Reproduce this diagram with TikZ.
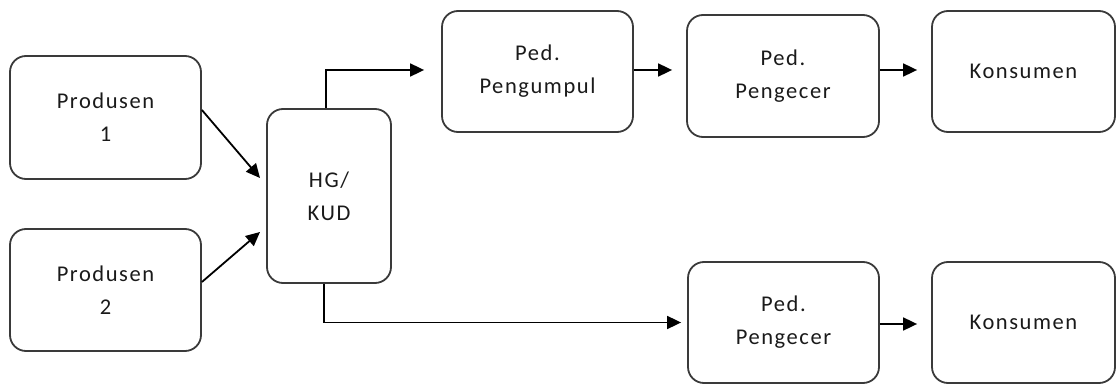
\documentclass[tikz,border=0pt]{standalone}
\usepackage{fontspec}
\setmainfont[LetterSpace=7]{Carlito}
\usetikzlibrary{arrows.meta}
\definecolor{boxline}{HTML}{3A3A3A}
\definecolor{txt}{HTML}{1A1A1A}
\tikzset{
  box/.style={draw=boxline, line width=1.8pt, rounded corners=16pt, align=center,
    text=txt, font=\fontsize{22.5}{33}\selectfont, inner sep=0pt},
  arr/.style={draw=black, line width=1.8pt, -{Triangle[length=14pt,width=13pt]}}
}
\begin{document}
\begin{tikzpicture}[x=1pt,y=-1pt]
\useasboundingbox (0,0) rectangle (1117,385);
\node[box, minimum width=191pt, minimum height=123pt] (p1) at (105.5,117.5) {Produsen\\1};
\node[box, minimum width=191pt, minimum height=122pt] (p2) at (105.5,290) {Produsen\\2};
\node[box, minimum width=124pt, minimum height=174pt] (hg) at (329,196) {HG/\\KUD};
\node[box, minimum width=191pt, minimum height=121pt] (pk) at (537.5,71.5) {Ped.\\Pengumpul};
\node[box, minimum width=192pt, minimum height=122pt] (pe1) at (783,76) {Ped.\\Pengecer};
\node[box, minimum width=183pt, minimum height=121pt] (k1) at (1023.5,71.5) {Konsumen};
\node[box, minimum width=191pt, minimum height=121pt] (pe2) at (783.5,322.5) {Ped.\\Pengecer};
\node[box, minimum width=183pt, minimum height=121pt] (k2) at (1023.5,322.5) {Konsumen};
\coordinate (a1) at (260,178);
\coordinate (a2) at (260,232);
\draw[arr] ([yshift=7.5pt]p1.east) -- (a1);
\draw[arr] ([yshift=8pt]p2.east) -- (a2);
\draw[arr, shorten >=17pt] ([xshift=-3pt]hg.north) |- ([yshift=1.5pt]pk.west);
\draw[arr, shorten >=6pt] ([xshift=-5pt]hg.south) |- (pe2.west);
\draw[arr, shorten >=14pt] ([yshift=1.5pt]pk.east) -- ([yshift=1.5pt]pk.east -| pe1.west);
\draw[arr, shorten >=14pt] ([yshift=6pt]pe1.east) -- ([yshift=6pt]pe1.east -| k1.west);
\draw[arr, shorten >=14pt] ([yshift=-1.5pt]pe2.east) -- ([yshift=-1.5pt]pe2.east -| k2.west);
\end{tikzpicture}
\end{document}
